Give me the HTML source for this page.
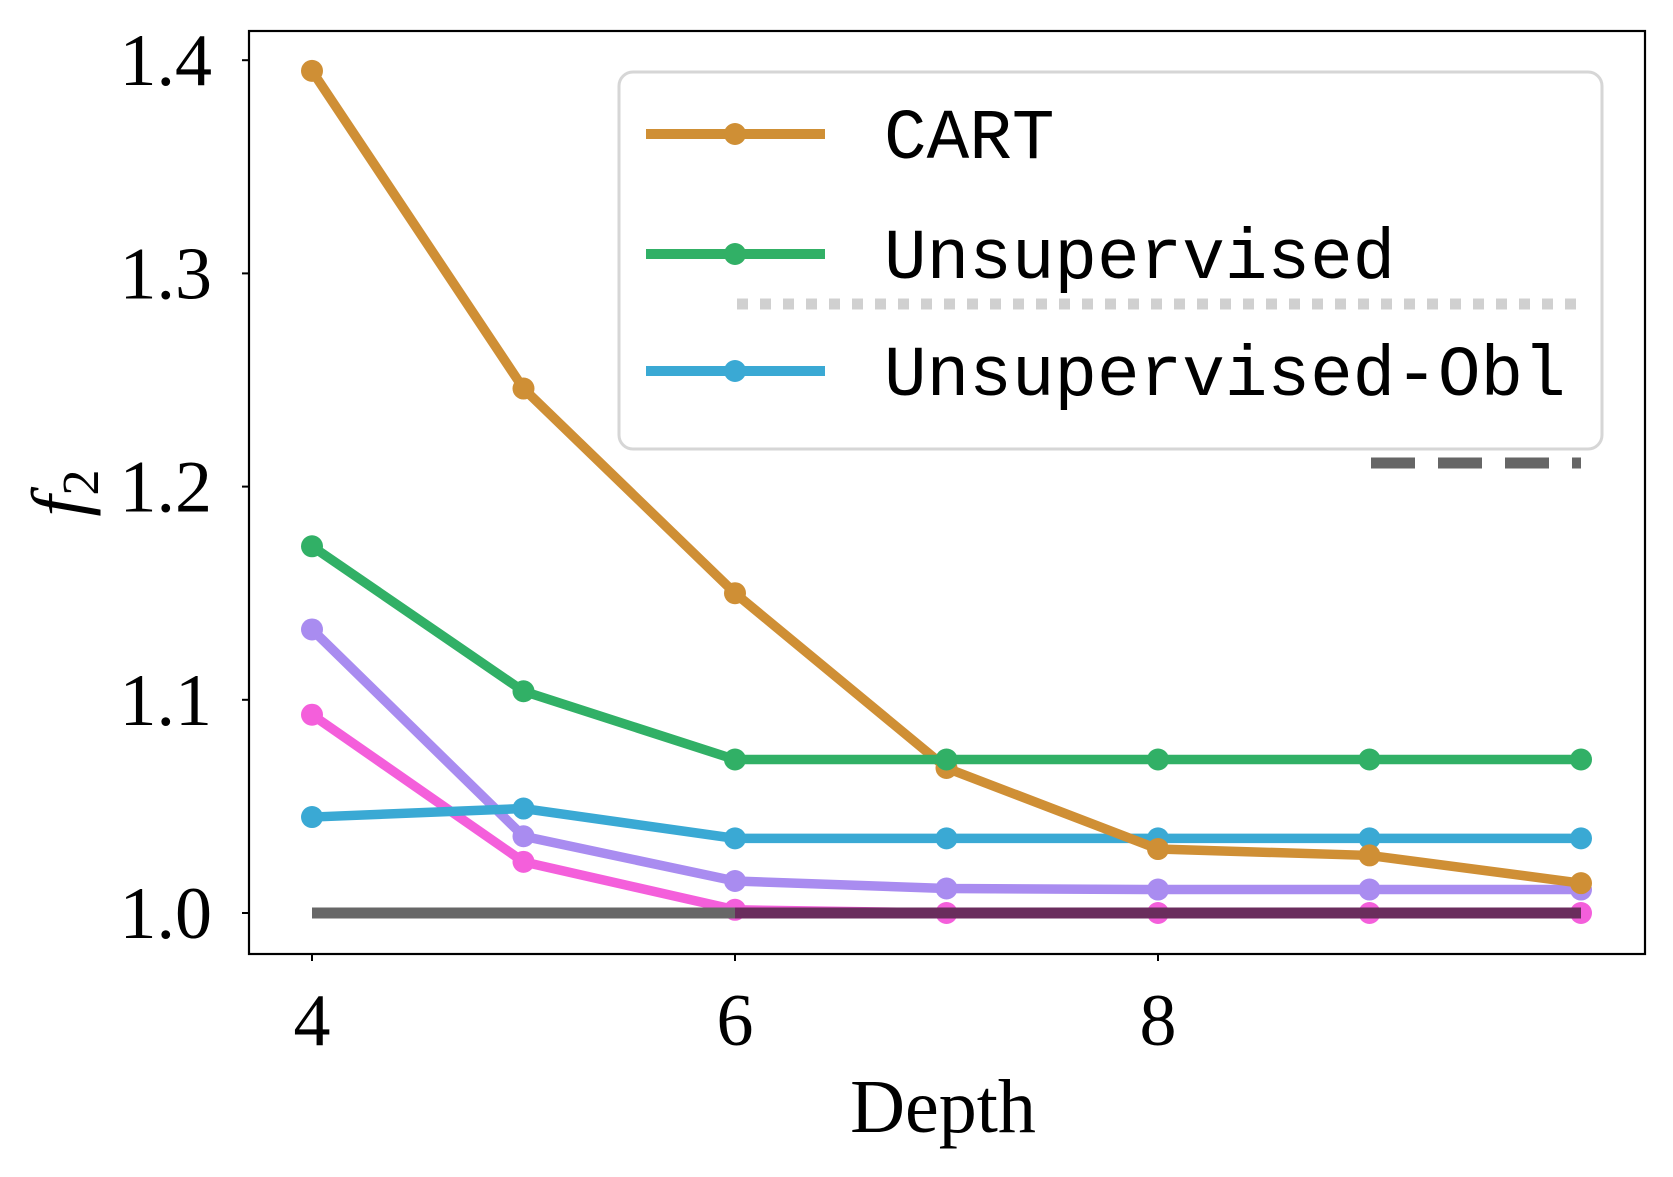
<!DOCTYPE html>
<html><head><meta charset="utf-8"><style>body{margin:0;background:#fff}svg{display:block}</style></head>
<body>
<svg id="chart" width="1673" height="1177" xmlns="http://www.w3.org/2000/svg">
<g id="plot"></g>
</svg>
<script>
const depths=[4,5,6,7,8,9,10];
const cartVals=[1.395,1.246,1.150,1.068,1.030,1.027,1.014];
const unsupVals=[1.172,1.104,1.072,1.072,1.072,1.072,1.072];
const oblVals=[1.045,1.049,1.035,1.035,1.035,1.035,1.035];
const purpleVals=[1.133,1.036,1.015,1.0115,1.011,1.011,1.011];
const pinkVals=[1.093,1.024,1.0015,1.000,1.000,1.000,1.000];
const baselineVals=[1.0,1.0];
const xTicks=[4,6,8];
const yTicks=[1.0,1.1,1.2,1.3,1.4];
const yTickLabels=["1.0","1.1","1.2","1.3","1.4"];

const NS="http://www.w3.org/2000/svg";
const X=v=>312+(v-4)*211.5;
const Y=v=>913-(v-1)*2132;
const g=document.getElementById('plot');
function mk(tag,attrs,parent){const e=document.createElementNS(NS,tag);for(const k in attrs)e.setAttribute(k,attrs[k]);(parent||g).appendChild(e);return e;}

const frame=mk('rect',{x:249,y:31,width:1396,height:923,fill:'none',stroke:'#000','stroke-width':2.2});



yTicks.forEach((t,i)=>{
  const tk=mk('line',{x1:242,x2:249,y1:Y(t),y2:Y(t),stroke:'#000','stroke-width':2});
  
  
  const tx=mk('text',{x:212,y:Y(t)+25,'text-anchor':'end','font-family':'Liberation Serif, serif','font-size':74});
  tx.textContent=yTickLabels[i];
  
  
});
xTicks.forEach(t=>{
  const tk=mk('line',{x1:X(t),x2:X(t),y1:954,y2:961,stroke:'#000','stroke-width':2});
  
  
  const tx=mk('text',{x:X(t),y:1045,'text-anchor':'middle','font-family':'Liberation Serif, serif','font-size':74});
  tx.textContent=String(t);
  
  
});
const xl=mk('text',{x:943,y:1132,'text-anchor':'middle','font-family':'Liberation Serif, serif','font-size':76});
xl.textContent='Depth';


const yl=mk('text',{x:0,y:0,transform:'translate(84,493) rotate(-90)','text-anchor':'middle','font-family':'Liberation Serif, serif','font-size':76,'font-style':'italic'});
yl.innerHTML='f<tspan font-size="52" dy="14" font-style="normal">2</tspan>';



function series(vals,color,name){
  const pts=vals.map((v,i)=>X(depths[i])+','+Y(v)).join(' ');
  const pl=mk('polyline',{points:pts,fill:'none',stroke:color,'stroke-width':9.5,'stroke-linejoin':'round'});
  
  
  vals.forEach((v,i)=>{
    const c=mk('circle',{cx:X(depths[i]),cy:Y(v),r:11,fill:color});
    
    
  });
}
series(pinkVals,'#f45fdb','pink-series');
const bl=mk('line',{x1:X(4),x2:X(10),y1:Y(baselineVals[0]),y2:Y(baselineVals[1]),stroke:'#676767','stroke-width':11});


const ov=mk('line',{x1:X(6),x2:X(10),y1:Y(baselineVals[0]),y2:Y(baselineVals[1]),stroke:'#6a2d5d','stroke-width':11});


series(purpleVals,'#a98cf0','purple-series');
series(oblVals,'#3aa9d4','unsupervised-obl-series');
series(cartVals,'#cf8f35','cart-series');
series(unsupVals,'#31b066','unsupervised-series');

const lg=mk('g',{});


const lbox=mk('rect',{x:619,y:72,width:983,height:377,rx:14,fill:'#fff','fill-opacity':0.85,stroke:'#d6d6d6','stroke-width':3},lg);


const entries=[['CART','#cf8f35',134],['Unsupervised','#31b066',254],['Unsupervised-Obl','#3aa9d4',371]];
entries.forEach(e=>{
  const eg=mk('g',{},lg);
  
  
  mk('line',{x1:646,x2:825,y1:e[2],y2:e[2],stroke:e[1],'stroke-width':10},eg);
  mk('circle',{cx:735,cy:e[2],r:11,fill:e[1]},eg);
  const t=mk('text',{x:884,y:e[2]+24,'font-family':'Liberation Mono, monospace','font-size':71},eg);
  t.textContent=e[0];
});

const dl=mk('line',{x1:737,x2:1579,y1:304,y2:304,stroke:'#d0d0d0','stroke-width':11,'stroke-dasharray':'11 12'});


const dsh=mk('line',{x1:1371,x2:1581,y1:463,y2:463,stroke:'#666','stroke-width':11,'stroke-dasharray':'44 23'});


</script>
</body></html>
